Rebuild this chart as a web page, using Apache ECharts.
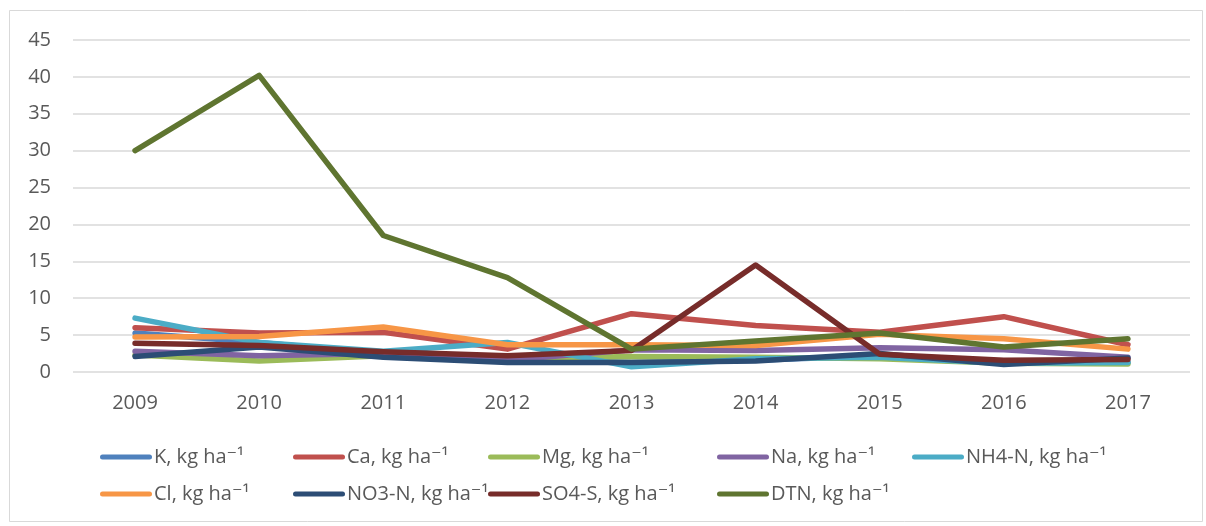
<!DOCTYPE html>
<html>
<head>
<meta charset="utf-8">
<script src="https://cdn.jsdelivr.net/npm/echarts@6/dist/echarts.min.js"></script>
<style>
  html, body { margin: 0; padding: 0; background: #fff; }
  #chart { width: 1206px; height: 526px; }
</style>
</head>
<body>
<div id="chart"></div>
<script>
// years on the x axis
const years = ['2009', '2010', '2011', '2012', '2013', '2014', '2015', '2016', '2017']
// deposition values
const kVals   = [5.3, 4.0, 2.5, 1.8, 1.3, 1.6, 2.2, 1.2, 1.3]
const caVals  = [6.0, 5.3, 5.4, 3.1, 7.9, 6.3, 5.4, 7.5, 3.7]
const mgVals  = [2.3, 1.5, 2.2, 1.8, 2.1, 2.0, 1.8, 1.2, 1.1]
const naVals  = [2.8, 2.2, 2.5, 1.6, 3.0, 2.9, 3.3, 3.0, 2.0]
const nh4Vals = [7.3, 4.0, 2.8, 4.0, 0.7, 1.8, 2.0, 1.2, 1.3]
const clVals  = [4.75, 4.8, 6.1, 3.7, 3.7, 3.6, 5.1, 4.5, 3.1]
const no3Vals = [2.1, 3.4, 2.0, 1.3, 1.3, 1.5, 2.5, 1.0, 1.9]
const so4Vals = [3.9, 3.6, 2.75, 2.2, 2.9, 14.5, 2.4, 1.6, 1.7]
const dtnVals = [30.0, 40.2, 18.5, 12.8, 3.1, 4.2, 5.3, 3.4, 4.5]

const unit = ', kg ha\u207B\u00B9'
const names = ['K', 'Ca', 'Mg', 'Na', 'NH4-N', 'Cl', 'NO3-N', 'SO4-S', 'DTN'].map(v => v + unit)
const values = [kVals, caVals, mgVals, naVals, nh4Vals, clVals, no3Vals, so4Vals, dtnVals]
const colors = ['#4F81BD', '#C0504D', '#9BBB59', '#8064A2', '#4BACC6', '#F79646', '#2C4D75', '#772C2A', '#5F7530']

const font = '"Open Sans", "DejaVu Sans", sans-serif'

let series = []
for (let i = 0; i < names.length; i++) {
  series.push({
    name: names[i],
    type: 'line',
    data: values[i],
    symbol: 'none',
    color: colors[i],
    lineStyle: { width: 5.5, cap: 'round', join: 'round' },
    emphasis: { disabled: true }
  })
}

// legend slots like the original: two rows, uneven columns
const colLeft = [100, 293, 488, 717, 912]
const rowTop = [447, 484]
const barIcon = 'path://M2.5,0 H49.5 A2.5,2.5 0 0 1 49.5,5 H2.5 A2.5,2.5 0 0 1 2.5,0 Z'
let legends = names.map((n, i) => ({
  left: colLeft[i % 5],
  top: rowTop[Math.floor(i / 5)],
  icon: barIcon,
  itemWidth: 52,
  itemHeight: 14,
  padding: 0,
  data: [n],
  textStyle: { color: '#595959', fontSize: 20, fontFamily: font, padding: [0, 0, 0, -3] }
}))

let option = {
  animation: false,
  backgroundColor: '#fff',
  legend: legends,
  grid: { left: 73, right: 16, top: 40, bottom: 154 },
  xAxis: {
    type: 'category',
    data: years,
    boundaryGap: true,
    axisLine: { show: false },
    axisTick: { show: false },
    axisLabel: { color: '#595959', fontSize: 20, fontFamily: font, margin: 21 }
  },
  yAxis: {
    type: 'value',
    min: 0,
    max: 45,
    interval: 5,
    axisLine: { show: false },
    axisTick: { show: false },
    axisLabel: { color: '#595959', fontSize: 20, fontFamily: font, margin: 22 },
    splitLine: { lineStyle: { color: '#d9d9d9', width: 1.5 } }
  },
  graphic: [{
    type: 'rect',
    shape: { x: 9.5, y: 10.5, width: 1193, height: 511 },
    style: { fill: 'none', stroke: '#d9d9d9', lineWidth: 1 },
    silent: true
  }],
  series: series
}

let c = echarts.init(document.getElementById('chart'))
c.setOption(option)
</script>
</body>
</html>
